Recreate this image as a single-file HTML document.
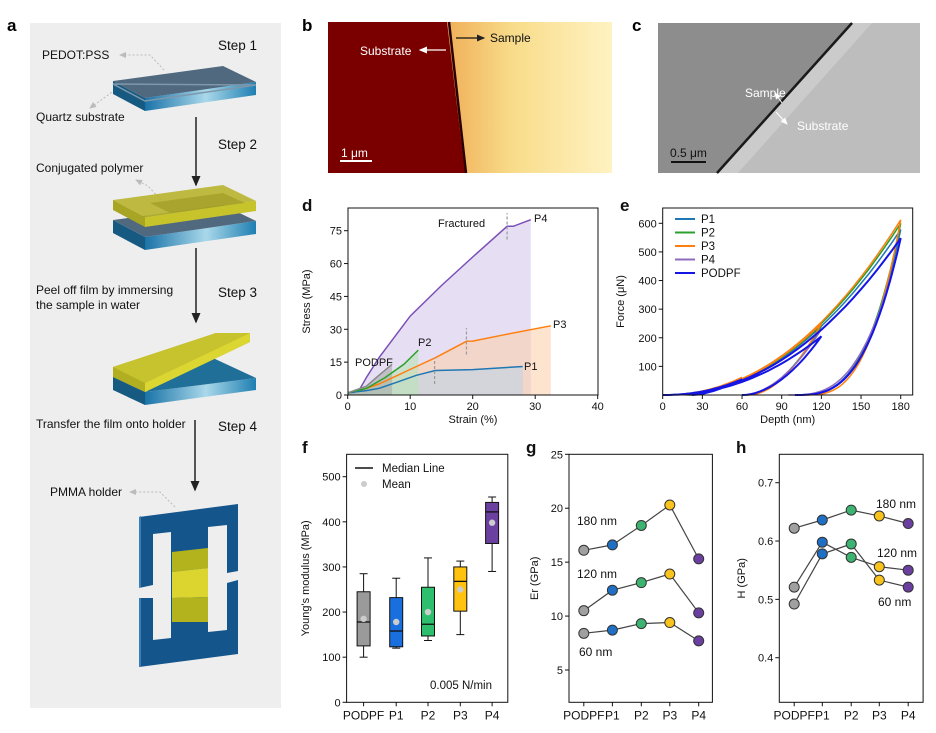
<!DOCTYPE html>
<html><head><meta charset="utf-8"><style>
html,body{margin:0;padding:0;background:#fff;}
svg{display:block;font-family:"Liberation Sans",Arial,sans-serif;}
</style></head><body>
<svg id="fig" width="936" height="733" viewBox="0 0 936 733" xmlns="http://www.w3.org/2000/svg">
<defs>
<linearGradient id="quartz" x1="0" x2="1" y1="0" y2="0"><stop offset="0" stop-color="#1a73a8"/><stop offset="0.55" stop-color="#a9d8ea"/><stop offset="1" stop-color="#1f7fb2"/></linearGradient>
<linearGradient id="afm" x1="0" x2="1" y1="0" y2="0"><stop offset="0" stop-color="#e07a1c"/><stop offset="0.35" stop-color="#eea24a"/><stop offset="0.65" stop-color="#f8dc8a"/><stop offset="1" stop-color="#fff2c2"/></linearGradient>
<marker id="ah" markerWidth="8" markerHeight="8" refX="6" refY="4" orient="auto"><path d="M0,1 L7,4 L0,7 z" fill="#222"/></marker>
<marker id="ahw" markerWidth="8" markerHeight="8" refX="6" refY="4" orient="auto"><path d="M0,1 L7,4 L0,7 z" fill="#fff"/></marker>
<marker id="ahg" markerWidth="8" markerHeight="8" refX="6" refY="4" orient="auto"><path d="M0,1 L7,4 L0,7 z" fill="#bbb"/></marker>
</defs>

<!-- Panel a -->
<g>
<text x="7" y="31" font-size="17" font-weight="bold">a</text>
<rect x="30" y="23" width="251" height="685" fill="#eeeeee"/>
<g font-size="12" fill="#111">
<text x="218" y="50" font-size="13.5">Step 1</text>
<text x="42" y="59">PEDOT:PSS</text>
<text x="36" y="121">Quartz substrate</text>
<text x="218" y="149" font-size="13.5">Step 2</text>
<text x="36" y="172">Conjugated polymer</text>
<text x="36" y="294">Peel off film by immersing</text>
<text x="36" y="309">the sample in water</text>
<text x="218" y="297" font-size="13.5">Step 3</text>
<text x="36" y="428">Transfer the film onto holder</text>
<text x="218" y="431" font-size="13.5">Step 4</text>
<text x="50" y="496">PMMA holder</text>
</g>
<g stroke="#bbb" stroke-dasharray="2,2" fill="none" stroke-width="1">
<path d="M164,70 L150,55 L120,55" marker-end="url(#ahg)"/>
<path d="M115,90 L90,108" marker-end="url(#ahg)"/>
<path d="M161,200 L148,186 L136,180" marker-end="url(#ahg)"/>
<path d="M175,507 L160,492 L130,492" marker-end="url(#ahg)"/>
</g>
<g>
<polygon points="113,81 145,98 145,111 113,94" fill="#165a82"/>
<polygon points="145,98 256,82 256,95 145,111" fill="url(#quartz)"/>
<polygon points="113,81 223,66 256,82 145,98" fill="#50697f"/>
<polygon points="113,84 145,101 256,85" fill="none" stroke="#7f97ab" stroke-width="1.5"/>
</g>
<g>
<polygon points="113,220 145,237 145,250 113,233" fill="#165a82"/>
<polygon points="145,237 256,221 256,234 145,250" fill="url(#quartz)"/>
<polygon points="113,220 223,205 256,221 145,237" fill="#50697f"/>
<polygon points="113,210 145,227 145,217 113,200" fill="#a8a424"/>
<polygon points="145,217 256,201 256,211 145,227" fill="#c7c32a"/>
<polygon points="113,200 223,185 256,201 145,217" fill="#b8b42e" opacity="0.9"/>
<polygon points="150,203 223,193 245,203 170,213" fill="#9a9620" opacity="0.6"/>
</g>
<g>
<polygon points="113,377 145,392 145,405 113,390" fill="#165a82"/>
<polygon points="145,392 256,378 256,390 145,405" fill="url(#quartz)"/>
<polygon points="113,377 200,352 256,378 145,392" fill="#1f6f98"/>
<polygon points="113,367 113,377 145,392 250,342 250,333 216,333" fill="#b2ae22"/>
<polygon points="113,367 216,333 250,333 145,383" fill="#c9c530" opacity="0.9"/>
<polygon points="145,383 250,333 250,342 145,392" fill="#dcd632"/>
</g>
<g stroke="#222" stroke-width="1.5">
<line x1="196" y1="117" x2="196" y2="185" marker-end="url(#ah)"/>
<line x1="196" y1="248" x2="196" y2="322" marker-end="url(#ah)"/>
<line x1="195" y1="420" x2="195" y2="490" marker-end="url(#ah)"/>
</g>
<g>
<polygon points="139,517 238,504 238,654 139,667" fill="#14558c"/>
<polygon points="139,517 141,516 141,667 139,667" fill="#3a7cb5"/>
<polygon points="153,534 171,532 171,638 153,640" fill="#eeeeee"/>
<polygon points="208,527 227,525 227,630 208,632" fill="#eeeeee"/>
<polygon points="139,588 153,585 153,598 139,598" fill="#eeeeee"/>
<polygon points="227,573 238,571 238,580 227,583" fill="#eeeeee"/>
<polygon points="172,552 208,548 208,568 172,572" fill="#b3b31e"/>
<polygon points="172,572 208,568 208,597 172,598" fill="#dcd530"/>
<polygon points="172,598 208,597 208,622 172,622" fill="#b3b31e"/>
</g>
</g>

<!-- Panel b -->
<g>
<text x="302" y="31" font-size="17" font-weight="bold">b</text>
<rect x="328" y="22" width="284" height="151" fill="url(#afm)"/>
<polygon points="328,22 447,22 465,173 328,173" fill="#7a0000"/>
<line x1="449" y1="22" x2="466" y2="173" stroke="#2a0000" stroke-width="2.5"/>
<text x="360" y="55" font-size="12" fill="#fff">Substrate</text>
<line x1="446" y1="50" x2="420" y2="50" stroke="#fff" stroke-width="1.2" marker-end="url(#ahw)"/>
<text x="490" y="42" font-size="12" fill="#111">Sample</text>
<line x1="456" y1="38" x2="484" y2="38" stroke="#111" stroke-width="1.2" marker-end="url(#ah)"/>
<text x="341" y="157" font-size="12" fill="#fff">1 μm</text>
<line x1="340" y1="161" x2="372" y2="161" stroke="#fff" stroke-width="2"/>
</g>

<!-- Panel c -->
<g>
<text x="632" y="31" font-size="17" font-weight="bold">c</text>
<rect x="658" y="23" width="262" height="150" fill="#8d8d8d"/>
<polygon points="853,23 920,23 920,173 718,173" fill="#bdbdbd"/>
<polygon points="853,23 872,23 738,173 718,173" fill="#d4d4d4" opacity="0.6"/>
<line x1="852" y1="23" x2="717" y2="173" stroke="#1a1a1a" stroke-width="2.5"/>
<text x="745" y="97" font-size="12" fill="#fff">Sample</text>
<line x1="782" y1="103" x2="775" y2="93" stroke="#fff" stroke-width="1" marker-end="url(#ahw)"/>
<text x="797" y="130" font-size="12" fill="#fff">Substrate</text>
<line x1="776" y1="112" x2="787" y2="124" stroke="#fff" stroke-width="1" marker-end="url(#ahw)"/>
<text x="670" y="157" font-size="12" fill="#111">0.5 μm</text>
<line x1="671" y1="162" x2="706" y2="162" stroke="#111" stroke-width="2"/>
</g>

<g id="charts"></g>
</svg>
<script>
// ---------- Panel d data ----------
const dSeriesNames = ['PODPF','P2','P1','P3','P4'];
const dStrainP4 = [0,1,2,3,5,10,15,20,25.5,26.5,29.3];
const dStressP4 = [1,1.2,3,8,17,36,50,63,77,77,80];
const dStrainP3 = [0,2,5,8,11,14,19,20,25,32.5];
const dStressP3 = [1,2,5,9,13,17,24.5,24.6,27.5,31.6];
const dStrainP1 = [0,3,5,8,11,14,20,28];
const dStressP1 = [1,2,3,6,9,11.2,11.6,13];
const dStrainP2 = [0,3,6,9,11.3];
const dStressP2 = [1,3,8,14,20.5];
const dStrainPODPF = [0,3,5,7.1];
const dStressPODPF = [1,4,9,14];
const dXTicks = [0,10,20,30,40];
const dYTicks = [0,15,30,45,60,75];
const dFractureStrain = [13.9,19,25.5];
const dFractureStress = [11,24.5,77];

// ---------- Panel e data ----------
const eSeries = ['P1','P2','P3','P4','PODPF'];
const ePeak60 = [58,60,62,55,55];
const ePeak120 = [240,245,250,230,205];
const ePeak180 = [578,600,612,548,548];
const eResid60 = [20,20,18,22,22];
const eResid120 = [62,63,65,60,60];
const eResid180 = [100,102,107,95,100];
const eXTicks = [0,30,60,90,120,150,180];
const eYTicks = [100,200,300,400,500,600];

// ---------- Panel f data ----------
const fCats = ['PODPF','P1','P2','P3','P4'];
const fWhiskLow = [100,120,137,150,290];
const fQ1 = [125,123,147,202,352];
const fMedian = [178,158,173,268,422];
const fQ3 = [245,232,255,300,443];
const fWhiskHigh = [285,275,320,313,455];
const fMean = [185,178,200,250,398];
const fYTicks = [0,100,200,300,400,500];

// ---------- Panel g data ----------
const gCats = ['PODPF','P1','P2','P3','P4'];
const gEr180 = [16.1,16.6,18.4,20.3,15.3];
const gEr120 = [10.5,12.4,13.1,13.9,10.3];
const gEr60 = [8.4,8.7,9.3,9.4,7.7];
const gYTicks = [5,10,15,20,25];

// ---------- Panel h data ----------
const hCats = ['PODPF','P1','P2','P3','P4'];
const hH180 = [0.622,0.636,0.653,0.643,0.630];
const hH120 = [0.521,0.598,0.572,0.556,0.550];
const hH60 = [0.492,0.578,0.595,0.533,0.521];
const hYTicks = [0.4,0.5,0.6,0.7];

const NS='http://www.w3.org/2000/svg';
const root=document.getElementById('charts');
function mk(tag,attrs,parent){const e=document.createElementNS(NS,tag);for(const k in attrs)e.setAttribute(k,attrs[k]);(parent||root).appendChild(e);return e;}
function txt(x,y,s,size,anchor,parent){const t=mk('text',{x:x,y:y,'font-size':size||12,'text-anchor':anchor||'start',fill:'#111'},parent);t.textContent=s;return t;}
function lin(d0,d1,r0,r1){return v=>r0+(v-d0)*(r1-r0)/(d1-d0);}
function pathFrom(xs,ys,X,Y){return xs.map((v,i)=>(i?'L':'M')+X(v).toFixed(1)+','+Y(ys[i]).toFixed(1)).join(' ');}

// ================= Panel d =================
(function(){
const g=mk('g',{});


const L=348,R=598,T=208,B=395;
const X=lin(0,40,347.7,597.7), Y=lin(0,75,395,230.7);
const lab=txt(302,211,'d',17,'start',g); lab.setAttribute('font-weight','bold');


const series=[
 {n:'P4',xs:dStrainP4,ys:dStressP4,c:'#7b4fb5',f:'rgba(190,170,225,0.38)'},
 {n:'P3',xs:dStrainP3,ys:dStressP3,c:'#ff7f0e',f:'rgba(252,205,165,0.55)'},
 {n:'P1',xs:dStrainP1,ys:dStressP1,c:'#1f77b4',f:'rgba(200,212,225,0.7)'},
 {n:'P2',xs:dStrainP2,ys:dStressP2,c:'#2ca02c',f:'rgba(190,225,190,0.7)'},
 {n:'PODPF',xs:dStrainPODPF,ys:dStressPODPF,c:'#888888',f:'rgba(170,170,170,0.6)'}];
series.forEach(s=>{
 const last=s.xs.length-1;
 const a=mk('path',{d:pathFrom(s.xs,s.ys,X,Y)+' L'+X(s.xs[last]).toFixed(1)+','+Y(0)+' L'+X(0)+','+Y(0)+' Z',fill:s.f,stroke:'none'},g);
 
 
});
series.forEach(s=>{
 const p=mk('path',{d:pathFrom(s.xs,s.ys,X,Y),fill:'none',stroke:s.c,'stroke-width':1.5},g);
 
 
});
dFractureStrain.forEach((v,i)=>{
 const l=mk('line',{x1:X(v),x2:X(v),y1:Y(dFractureStress[i]-6),y2:Y(dFractureStress[i]+6),stroke:'#999','stroke-dasharray':'3,2','stroke-width':1.2},g);
 
 
});
const fr=mk('rect',{x:L,y:T,width:R-L,height:B-T,fill:'none',stroke:'#111','stroke-width':1},g);


dXTicks.forEach(v=>{mk('line',{x1:X(v),x2:X(v),y1:B,y2:B+4,stroke:'#111'},g);
 const t=txt(X(v),B+15,String(v),11,'middle',g);
 
 });
dYTicks.forEach(v=>{mk('line',{x1:L-4,x2:L,y1:Y(v),y2:Y(v),stroke:'#111'},g);
 const t=txt(L-6,Y(v)+4,String(v),11,'end',g);
 
 });
const xt=txt((L+R)/2,B+28,'Strain (%)',11,'middle',g);


const yt=txt(0,0,'Stress (MPa)',11,'middle',g); yt.setAttribute('transform','translate(310,'+((T+B)/2)+') rotate(-90)');


const labs=[['Fractured',438,227],['P4',534,222],['P3',553,328],['P2',418,346],['P1',524,370],['PODPF',355,366]];
labs.forEach(a=>{const t=txt(a[1],a[2],a[0],11,'start',g);
 
 });
})();

// ================= Panel e =================
(function(){
const g=mk('g',{});


const L=662.7,R=912.7,T=208,B=395;
const X=lin(0,180,662.7,900.7), Y=lin(0,600,395,223.3);
const lab=txt(620,211,'e',17,'start',g); lab.setAttribute('font-weight','bold');


const colors=['#1f77b4','#2ca02c','#ff7f0e','#8e6bbf','#1515e6'];
function loop(dmax,pk,res,m){
 const pts=[];
 for(let i=0;i<=30;i++){const d=dmax*i/30;pts.push([d,pk*Math.pow(d/dmax,2.16)]);}
 for(let i=0;i<=30;i++){const d=dmax-(dmax-res)*i/30;pts.push([d,pk*Math.pow((d-res)/(dmax-res),m)]);}
 return pts.map((p,i)=>(i?'L':'M')+X(p[0]).toFixed(1)+','+Y(p[1]).toFixed(1)).join(' ');
}
eSeries.forEach((n,i)=>{
 const d=loop(60,ePeak60[i],eResid60[i],1.6)+' '+loop(120,ePeak120[i],eResid120[i],1.9)+' '+loop(180,ePeak180[i],eResid180[i],3.0);
 const p=mk('path',{d:d,fill:'none',stroke:colors[i],'stroke-width':i===4?2:1.5},g);
 
 
});
const fr=mk('rect',{x:L,y:T,width:R-L,height:B-T,fill:'none',stroke:'#111','stroke-width':1},g);


eXTicks.forEach(v=>{mk('line',{x1:X(v),x2:X(v),y1:B,y2:B+4,stroke:'#111'},g);
 const t=txt(X(v),B+15,String(v),11,'middle',g);
 
 });
eYTicks.forEach(v=>{mk('line',{x1:L-4,x2:L,y1:Y(v),y2:Y(v),stroke:'#111'},g);
 const t=txt(L-6,Y(v)+4,String(v),11,'end',g);
 
 });
const xt=txt((L+R)/2,B+28,'Depth (nm)',11,'middle',g);


const yt=txt(0,0,'Force (μN)',11,'middle',g); yt.setAttribute('transform','translate(624,'+((T+B)/2)+') rotate(-90)');


eSeries.forEach((n,i)=>{
 const y=219+i*13.5;
 const l=mk('line',{x1:675,x2:695,y1:y,y2:y,stroke:colors[i],'stroke-width':2},g);
 
 
 const t=txt(701,y+4,n,11.5,'start',g);
 
 
});
})();

// ================= Panel f =================
(function(){
const g=mk('g',{});


const L=346.6,R=507.8,T=454.3,B=702.3;
const Y=lin(0,500,702.3,476.7);
const cx=[363.6,396.2,428,460.3,492.1];
const colors=['#9a9a9a','#1a6fdf','#2dbf6e','#ffc20e','#6b3fa0'];
const lab=txt(302,453,'f',17,'start',g); lab.setAttribute('font-weight','bold');


fCats.forEach((c,i)=>{
 const x=cx[i];
 mk('line',{x1:x,x2:x,y1:Y(fWhiskLow[i]),y2:Y(fWhiskHigh[i]),stroke:'#111'},g);
 mk('line',{x1:x-4,x2:x+4,y1:Y(fWhiskLow[i]),y2:Y(fWhiskLow[i]),stroke:'#111'},g);
 mk('line',{x1:x-4,x2:x+4,y1:Y(fWhiskHigh[i]),y2:Y(fWhiskHigh[i]),stroke:'#111'},g);
 const b=mk('rect',{x:x-6.5,y:Y(fQ3[i]),width:13,height:Y(fQ1[i])-Y(fQ3[i]),fill:colors[i],stroke:'#111','stroke-width':1},g);
 
 
 mk('line',{x1:x-6.5,x2:x+6.5,y1:Y(fMedian[i]),y2:Y(fMedian[i]),stroke:'#111','stroke-width':1.3},g);
 const m=mk('circle',{cx:x,cy:Y(fMean[i]),r:3.2,fill:'#cccccc'},g);
 
 
 const t=txt(x,B+17,c,12,'middle',g);
 
 
 mk('line',{x1:x,x2:x,y1:B,y2:B+4,stroke:'#111'},g);
});
const fr=mk('rect',{x:L,y:T,width:R-L,height:B-T,fill:'none',stroke:'#111'},g);


fYTicks.forEach(v=>{mk('line',{x1:L-4,x2:L,y1:Y(v),y2:Y(v),stroke:'#111'},g);
 const t=txt(L-6,Y(v)+4,String(v),11,'end',g);
 
 });
const yt=txt(0,0,"Young's modulus (MPa)",11,'middle',g); yt.setAttribute('transform','translate(309,'+((T+B)/2)+') rotate(-90)');


mk('line',{x1:355,x2:373,y1:468,y2:468,stroke:'#111','stroke-width':1.5},g);
const l1=txt(382,472,'Median Line',11.5,'start',g);


mk('circle',{cx:364,cy:484,r:3,fill:'#cccccc'},g);
const l2=txt(382,488,'Mean',11.5,'start',g);


const rate=txt(430,689,'0.005 N/min',11.5,'start',g);


})();

// ================= Panels g & h =================
function dotPanel(opt){
 const g=mk('g',{});
 
 
 const T=454.3,B=702.3;
 const Y=lin(opt.y0,opt.y1,opt.py0,opt.py1);
 const colors=['#a0a0a0','#1f6fc4','#3cb371','#f7c31c','#6b3fa0'];
 const lab=txt(opt.lx,453,opt.letter,17,'start',g); lab.setAttribute('font-weight','bold');
 
 
 const fr=mk('rect',{x:opt.L,y:T,width:opt.R-opt.L,height:B-T,fill:'none',stroke:'#111'},g);
 
 
 opt.ticks.forEach(v=>{mk('line',{x1:opt.L-4,x2:opt.L,y1:Y(v),y2:Y(v),stroke:'#111'},g);
  const t=txt(opt.L-6,Y(v)+4,opt.fmt(v),11,'end',g);
  
  });
 opt.cats.forEach((c,i)=>{mk('line',{x1:opt.cx[i],x2:opt.cx[i],y1:B,y2:B+4,stroke:'#111'},g);
  const t=txt(opt.cx[i],B+17,c,12,'middle',g);
  
  });
 opt.series.forEach((s,k)=>{
  const p=mk('path',{d:s.map((v,i)=>(i?'L':'M')+opt.cx[i]+','+Y(v).toFixed(1)).join(' '),fill:'none',stroke:'#444','stroke-width':1.2},g);
  
  
  s.forEach((v,i)=>{const c=mk('circle',{cx:opt.cx[i],cy:Y(v),r:5,fill:colors[i],stroke:'#333','stroke-width':1},g);
   
   });
 });
 const yt=txt(0,0,opt.ytitle,11,'middle',g); yt.setAttribute('transform','translate('+opt.ytx+','+((T+B)/2)+') rotate(-90)');
 
 
 opt.labels.forEach(a=>{const t=txt(a[1],a[2],a[0],12,'start',g);
  
  });
}
dotPanel({name:'er-chart',letter:'g',lx:526,L:569,R:712.4,y0:25,y1:5,py0:454.3,py1:670,
 cats:gCats,cx:[583.8,612.4,641.3,669.8,698.7],ticks:gYTicks,fmt:v=>String(v),
 series:[gEr180,gEr120,gEr60],snames:['180nm','120nm','60nm'],ytitle:'Er (GPa)',ytx:538,
 labels:[['180 nm',577,525],['120 nm',577,578],['60 nm',579,656]]});
dotPanel({name:'hardness-chart',letter:'h',lx:736,L:779.3,R:923.1,y0:0.7,y1:0.4,py0:482.7,py1:657.7,
 cats:hCats,cx:[794.2,822.3,851.2,879.3,908.2],ticks:hYTicks,fmt:v=>v.toFixed(1),
 series:[hH180,hH120,hH60],snames:['180nm','120nm','60nm'],ytitle:'H (GPa)',ytx:745,
 labels:[['180 nm',876,508],['120 nm',877,557],['60 nm',878,606]]});
</script>
</body></html>
